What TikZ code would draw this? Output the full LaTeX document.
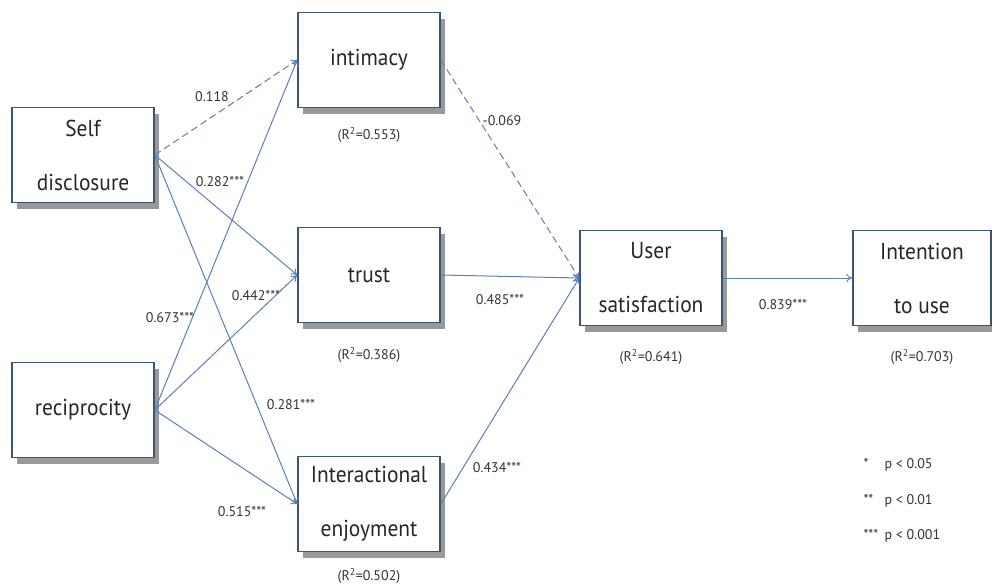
\documentclass[tikz,border=0pt]{standalone}
\usepackage{fontspec}
\setmainfont{PT Sans}
\newfontfamily\boxfont[FakeStretch=0.93]{PT Sans}
\usetikzlibrary{arrows.meta,shadows}
\definecolor{boxline}{HTML}{3A5475}
\definecolor{pathline}{HTML}{5B7FBC}
\definecolor{labeltext}{HTML}{333333}
\tikzset{
  construct/.style={draw=boxline,line width=1.6pt,fill=white,minimum width=142pt,minimum height=95pt,
    align=center,text=black!85,font=\boxfont\fontsize{23}{54}\selectfont,
    drop shadow={shadow xshift=5pt,shadow yshift=-6pt,fill=black!50,opacity=0.8}},
  effect/.style={draw=pathline,line width=1pt,-{To[length=6pt,width=8pt]}},
  ns/.style={effect,dash pattern=on 7pt off 4pt},
  coef/.style={font=\fontsize{14}{16}\selectfont,text=labeltext},
}
\begin{document}
\begin{tikzpicture}[x=1pt,y=-1pt]
\useasboundingbox (0,0) rectangle (992,587);
% constructs
\node[construct] (self) at (83,155) {Self\\disclosure};
\node[construct] (recip) at (83,410) {reciprocity};
\node[construct] (intim) at (369,60) {intimacy};
\node[construct] (trust) at (369,275) {trust};
\node[construct] (enjoy) at (369,504) {Interactional\\enjoyment};
\node[construct] (satis) at (651,278) {User\\satisfaction};
\node[construct,minimum width=138pt] (intent) at (922,278) {Intention\\to use};
% R square
\node[coef] (r1) at (369,135) {(R\textsuperscript{2}=0.553)};
\node[coef] (r2) at (369,355) {(R\textsuperscript{2}=0.386)};
\node[coef] (r3) at (369,576) {(R\textsuperscript{2}=0.502)};
\node[coef] (r4) at (651,357) {(R\textsuperscript{2}=0.641)};
\node[coef] (r5) at (922,357) {(R\textsuperscript{2}=0.703)};
% paths
\draw[ns] (self.east) -- (intim.west);
\draw[effect] (self.east) -- (trust.west);
\draw[effect] (self.east) -- (enjoy.west);
\draw[effect] (recip.east) -- (intim.west);
\draw[effect] (recip.east) -- (trust.west);
\draw[effect] (recip.east) -- (enjoy.west);
\draw[ns] (intim.east) -- (satis.west);
\draw[effect] (trust.east) -- (satis.west);
\draw[effect] (enjoy.east) -- (satis.west);
\draw[effect] (satis.east) -- (intent.west);
% coefficients
\node[coef] (c1) at (212,97) {0.118};
\node[coef] (c2) at (220,182) {0.282***};
\node[coef] (c3) at (170,318) {0.673***};
\node[coef] (c4) at (256,296) {0.442***};
\node[coef] (c5) at (291,405) {0.281***};
\node[coef] (c6) at (242,512) {0.515***};
\node[coef] (c7) at (502,121) {-0.069};
\node[coef] (c8) at (500,300) {0.485***};
\node[coef] (c9) at (497,468) {0.434***};
\node[coef] (c10) at (783,305) {0.839***};
% significance
\node[coef,anchor=west] (p1) at (860,465) {\makebox[21pt][l]{*}p < 0.05};
\node[coef,anchor=west] (p2) at (860,501) {\makebox[21pt][l]{**}p < 0.01};
\node[coef,anchor=west] (p3) at (860,536) {\makebox[21pt][l]{***}p < 0.001};
\end{tikzpicture}
\end{document}
